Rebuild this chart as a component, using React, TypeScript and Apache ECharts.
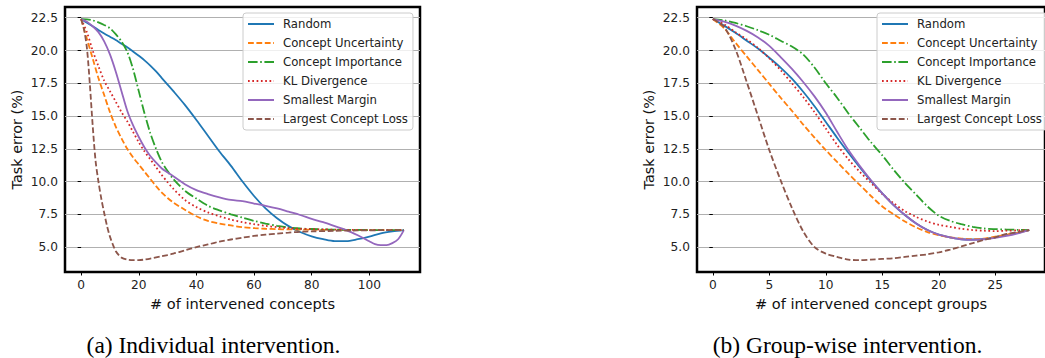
import React, { useEffect, useRef } from "react";
import * as echarts from "echarts";

const seriesNames = [
  "Random",
  "Concept Uncertainty",
  "Concept Importance",
  "KL Divergence",
  "Smallest Margin",
  "Largest Concept Loss",
];
const colors = ["#1f77b4", "#ff7f0e", "#2ca02c", "#d62728", "#9467bd", "#8c564b"];
const dashes: (number[] | "solid")[] = [
  "solid",
  [5.8, 2.6],
  [9.6, 2.6, 1.6, 2.6],
  [1.7, 2.6],
  "solid",
  [5.8, 2.6],
];

const leftXTicks = [0, 20, 40, 60, 80, 100];
const rightXTicks = [0, 5, 10, 15, 20, 25];
const yTicks = [5, 7.5, 10, 12.5, 15, 17.5, 20, 22.5];

// ---- (a) Individual intervention ----
const leftX = [0, 2, 4, 6, 8, 10, 12, 14, 16, 18, 20, 22, 24, 26, 28, 30, 32, 36, 40, 44, 48, 52, 56, 60, 64, 68, 72, 76, 80, 84, 88, 92, 96, 100, 104, 108, 112];
const leftRandom = [22.4, 22.12, 21.85, 21.57, 21.3, 21.05, 20.8, 20.52, 20.25, 19.93, 19.6, 19.25, 18.85, 18.4, 17.9, 17.4, 16.9, 15.85, 14.7, 13.5, 12.3, 11.2, 10.0, 8.9, 7.95, 7.2, 6.6, 6.15, 5.82, 5.6, 5.45, 5.45, 5.6, 5.8, 6.05, 6.2, 6.3];
const leftUncertainty = [22.4, 20.9, 19.4, 17.9, 16.6, 15.3, 14.2, 13.3, 12.5, 11.85, 11.3, 10.75, 10.2, 9.65, 9.15, 8.75, 8.4, 7.85, 7.35, 7.0, 6.8, 6.65, 6.52, 6.45, 6.4, 6.37, 6.35, 6.34, 6.33, 6.32, 6.32, 6.31, 6.31, 6.3, 6.3, 6.3, 6.3];
const leftImportance = [22.4, 22.38, 22.3, 22.15, 21.95, 21.7, 21.25, 20.7, 19.9, 18.6, 16.9, 15.2, 13.7, 12.5, 11.5, 10.8, 10.2, 9.3, 8.7, 8.15, 7.8, 7.5, 7.25, 7.0, 6.8, 6.62, 6.5, 6.42, 6.38, 6.35, 6.33, 6.32, 6.31, 6.3, 6.3, 6.3, 6.3];
const leftKL = [22.4, 21.4, 20.0, 18.8, 17.7, 16.9, 16.1, 15.3, 14.6, 13.8, 13.0, 12.3, 11.7, 11.1, 10.5, 9.95, 9.45, 8.6, 8.05, 7.65, 7.35, 7.1, 6.9, 6.75, 6.62, 6.52, 6.45, 6.4, 6.37, 6.35, 6.33, 6.32, 6.31, 6.3, 6.3, 6.3, 6.3];
const leftMarginX = [0, 2, 4, 6, 8, 10, 12, 14, 16, 18, 20, 22, 24, 26, 28, 30, 32, 36, 40, 44, 48, 52, 56, 60, 64, 68, 72, 76, 80, 84, 88, 92, 96, 100, 102, 104, 106, 108, 110, 112];
const leftMargin = [22.4, 22.2, 21.85, 21.4, 20.7, 19.7, 18.4, 16.9, 15.4, 14.3, 13.4, 12.6, 11.95, 11.45, 11.0, 10.7, 10.4, 9.8, 9.35, 9.05, 8.8, 8.6, 8.5, 8.32, 8.15, 7.95, 7.7, 7.45, 7.15, 6.9, 6.6, 6.3, 5.9, 5.45, 5.22, 5.15, 5.15, 5.3, 5.6, 6.3];
const leftLossX = [0, 1, 2, 3, 4, 5, 6, 7, 8, 9, 10, 11, 12, 13, 14, 16, 18, 20, 22, 24, 28, 32, 36, 40, 44, 48, 52, 56, 60, 64, 68, 72, 76, 80, 88, 96, 104, 112];
const leftLoss = [22.4, 21.6, 20.2, 17.5, 14.3, 11.6, 10.0, 8.7, 7.6, 6.6, 5.8, 5.2, 4.7, 4.4, 4.2, 4.05, 4.0, 4.0, 4.05, 4.12, 4.3, 4.5, 4.75, 5.0, 5.2, 5.42, 5.58, 5.72, 5.85, 5.95, 6.03, 6.1, 6.17, 6.2, 6.24, 6.27, 6.29, 6.3];

// ---- (b) Group-wise intervention ----
const rightX = [0, 1, 2, 3, 4, 5, 6, 7, 8, 9, 10, 11, 12, 13, 14, 15, 16, 17, 18, 19, 20, 21, 22, 23, 24, 25, 26, 27, 28];
const rightRandom = [22.4, 21.9, 21.35, 20.75, 20.15, 19.45, 18.7, 17.85, 16.85, 15.75, 14.55, 13.35, 12.2, 11.1, 10.05, 9.1, 8.2, 7.45, 6.8, 6.3, 5.95, 5.75, 5.6, 5.58, 5.62, 5.75, 5.92, 6.1, 6.3];
const rightUncertainty = [22.4, 21.7, 20.6, 19.55, 18.5, 17.45, 16.4, 15.4, 14.35, 13.35, 12.4, 11.5, 10.6, 9.75, 8.9, 8.1, 7.5, 6.95, 6.5, 6.15, 5.9, 5.75, 5.65, 5.6, 5.65, 5.8, 5.95, 6.1, 6.3];
const rightImportance = [22.4, 22.3, 22.1, 21.85, 21.55, 21.2, 20.75, 20.3, 19.7, 18.7, 17.5, 16.4, 15.2, 14.1, 13.0, 12.0, 10.9, 9.9, 9.0, 8.1, 7.4, 7.0, 6.75, 6.55, 6.42, 6.37, 6.34, 6.32, 6.3];
const rightKL = [22.4, 22.0, 21.4, 20.85, 20.2, 19.4, 18.5, 17.5, 16.45, 15.3, 14.05, 12.8, 11.7, 10.75, 9.9, 9.05, 8.35, 7.75, 7.3, 6.95, 6.7, 6.55, 6.4, 6.3, 6.25, 6.22, 6.25, 6.28, 6.3];
const rightMargin = [22.4, 22.2, 21.9, 21.5, 21.0, 20.35, 19.5, 18.6, 17.6, 16.5, 15.25, 13.8, 12.4, 11.2, 10.1, 9.1, 8.2, 7.45, 6.8, 6.3, 5.95, 5.75, 5.6, 5.55, 5.6, 5.7, 5.85, 6.05, 6.3];
const rightLoss = [22.4, 21.8, 20.1, 17.6, 15.0, 12.4, 10.1, 8.0, 6.2, 5.0, 4.5, 4.25, 4.05, 4.0, 4.05, 4.1, 4.15, 4.25, 4.35, 4.45, 4.6, 4.8, 5.05, 5.3, 5.55, 5.75, 6.0, 6.15, 6.3];

const leftData: [number[], number[]][] = [
  [leftX, leftRandom],
  [leftX, leftUncertainty],
  [leftX, leftImportance],
  [leftX, leftKL],
  [leftMarginX, leftMargin],
  [leftLossX, leftLoss],
];
const rightData: [number[], number[]][] = [
  [rightX, rightRandom],
  [rightX, rightUncertainty],
  [rightX, rightImportance],
  [rightX, rightKL],
  [rightX, rightMargin],
  [rightX, rightLoss],
];

const FONT = "'DejaVu Sans', sans-serif";

function makeXAxis(gridIndex: number, min: number, max: number, ticks: number[], name: string) {
  return {
    type: "value",
    gridIndex,
    min,
    max,
    name,
    nameLocation: "middle",
    nameGap: 23,
    nameTextStyle: { fontFamily: FONT, fontSize: 14.6, color: "#111" },
    axisLine: { show: false },
    axisTick: { show: true, length: 3.5, customValues: ticks, lineStyle: { color: "#000", width: 1 } },
    axisLabel: { customValues: ticks, margin: 7, fontFamily: FONT, fontSize: 12.2, color: "#222" },
    splitLine: { show: false },
  };
}

function makeYAxis(gridIndex: number) {
  return {
    type: "value",
    gridIndex,
    min: 3.1,
    max: 23.32,
    name: "Task error (%)",
    nameLocation: "middle",
    nameGap: 41,
    nameTextStyle: { fontFamily: FONT, fontSize: 14.4, color: "#111" },
    axisLine: { show: false },
    axisTick: { show: true, length: 3.5, customValues: yTicks, lineStyle: { color: "#000", width: 1 } },
    axisLabel: {
      customValues: yTicks,
      margin: 7,
      fontFamily: FONT,
      fontSize: 12.2,
      color: "#222",
      formatter: (v: number) => v.toFixed(1),
    },
    splitLine: { show: true, lineStyle: { color: "#b0b0b0", width: 1 } },
  };
}

function makeSeries(data: [number[], number[]][], axisIndex: number) {
  return data.map(([xs, ys], i) => ({
    type: "line",
    name: seriesNames[i],
    xAxisIndex: axisIndex,
    yAxisIndex: axisIndex,
    data: xs.map((x, j) => [x, ys[j]]),
    symbol: "none",
    smooth: 0.3,
    z: 3 + i,
    lineStyle: { color: colors[i], width: 1.8, type: dashes[i] },
    itemStyle: { color: colors[i] },
  }));
}

function makeLegend(left: number) {
  return {
    orient: "vertical",
    left,
    top: 13,
    padding: [5, 5, 5, 4],
    itemWidth: 26,
    itemHeight: 12,
    itemGap: 7,
    backgroundColor: "rgba(255,255,255,0.8)",
    borderColor: "#cccccc",
    borderWidth: 1,
    borderRadius: 3,
    data: seriesNames.map((n) => ({ name: n })),
    itemStyle: { color: "rgba(0,0,0,0)", borderWidth: 0, opacity: 0 },
    textStyle: { fontFamily: FONT, fontSize: 11.7, color: "#222", padding: [0, 0, 0, 4] },
    selectedMode: false,
  };
}

export default function App() {
  const ref = useRef<HTMLDivElement>(null);
  useEffect(() => {
    if (!ref.current) return;
    const chart = echarts.init(ref.current, undefined, { renderer: "svg" });
    const leftSeries = makeSeries(leftData, 0);
    const rightSeries = makeSeries(rightData, 1);
    chart.setOption({
      animation: false,
      backgroundColor: "#fff",
      grid: [
        { left: 65, top: 7, width: 355, height: 265, show: true, borderColor: "#000", borderWidth: 2.5, backgroundColor: "transparent" },
        { left: 697, top: 7, width: 355, height: 265, show: true, borderColor: "#000", borderWidth: 2.5, backgroundColor: "transparent" },
      ],
      xAxis: [
        makeXAxis(0, -5.6, 117.6, leftXTicks, "# of intervened concepts"),
        makeXAxis(1, -1.4, 29.4, rightXTicks, "# of intervened concept groups"),
      ],
      yAxis: [makeYAxis(0), makeYAxis(1)],
      legend: [makeLegend(243), makeLegend(877)],
      series: [...leftSeries, ...rightSeries],
      graphic: [
        {
          type: "text",
          x: 213.5,
          y: 345,
          style: {
            text: "(a) Individual intervention.",
            font: "23.5px 'Liberation Serif', serif",
            fill: "#000",
            align: "center",
            verticalAlign: "middle",
          },
        },
        {
          type: "text",
          x: 847.5,
          y: 345,
          style: {
            text: "(b) Group-wise intervention.",
            font: "23.5px 'Liberation Serif', serif",
            fill: "#000",
            align: "center",
            verticalAlign: "middle",
          },
        },
      ],
    });
    return () => chart.dispose();
  }, []);
  return (
    <div
      ref={ref}
      style={{ position: "absolute", left: 0, top: 0, width: 1045, height: 358 }}
    />
  );
}
